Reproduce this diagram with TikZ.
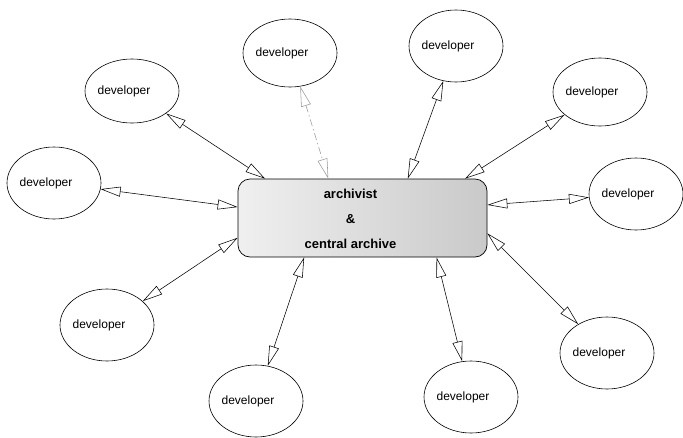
\documentclass[tikz,border=0pt]{standalone}
\usepackage{fontspec}
\setmainfont{Liberation Sans}
\usetikzlibrary{shapes.geometric,arrows.meta}
\begin{document}
\begin{tikzpicture}[x=1pt,y=-1pt,
  dev/.style={ellipse, draw, line width=0.6pt, minimum width=94pt, minimum height=72pt, inner sep=0pt,
    font=\fontsize{12}{14}\selectfont, execute at begin node={\hspace*{-16pt}}},
  arch/.style={draw, line width=0.7pt, rounded corners=12pt, minimum width=249pt, minimum height=78pt,
    inner sep=0pt, left color=gray!12, right color=gray!42, font=\bfseries\fontsize{13}{25}\selectfont},
  link/.style={line width=0.55pt, {Triangle[open,length=20pt,width=10pt]}-{Triangle[open,length=20pt,width=10pt]}},
  dashlink/.style={link, draw=gray!80, dash pattern=on 7pt off 3pt on 1.5pt off 3pt}
]
\useasboundingbox (0,0) rectangle (683,437);
\node[arch] (box) at (362.5,218) {{\setlength\tabcolsep{0pt}\begin{tabular}{c}archivist\\\&\\central archive\end{tabular}}\hspace*{24pt}};
\node[dev, minimum height=64pt] (d1) at (132,91) {developer};
\node[dev, minimum height=68pt] (d2) at (290,53) {developer};
\node[dev] (d3) at (456,46) {developer};
\node[dev, minimum height=68pt] (d4) at (600,92) {developer};
\node[dev] (d5) at (636,194) {developer};
\node[dev] (d6) at (54,183) {developer};
\node[dev] (d7) at (107,325) {developer};
\node[dev] (d8) at (256,401) {developer};
\node[dev] (d9) at (471,397) {developer};
\node[dev] (d10) at (607,353) {developer};
\draw[link] (d1) -- (box.158);
\draw[dashlink] (d2) -- (box.131.5);
\draw[link] (d3) -- (box.41.2);
\draw[link] (d4) -- (box.21.8);
\draw[link] (d5) -- (box.6);
\draw[link] (d6) -- (box.175);
\draw[link] (d7) -- (box.189);
\draw[link] (d8) -- (box.214);
\draw[link] (d9) -- (box.332);
\draw[link] (d10) -- (box.353);
\end{tikzpicture}
\end{document}
